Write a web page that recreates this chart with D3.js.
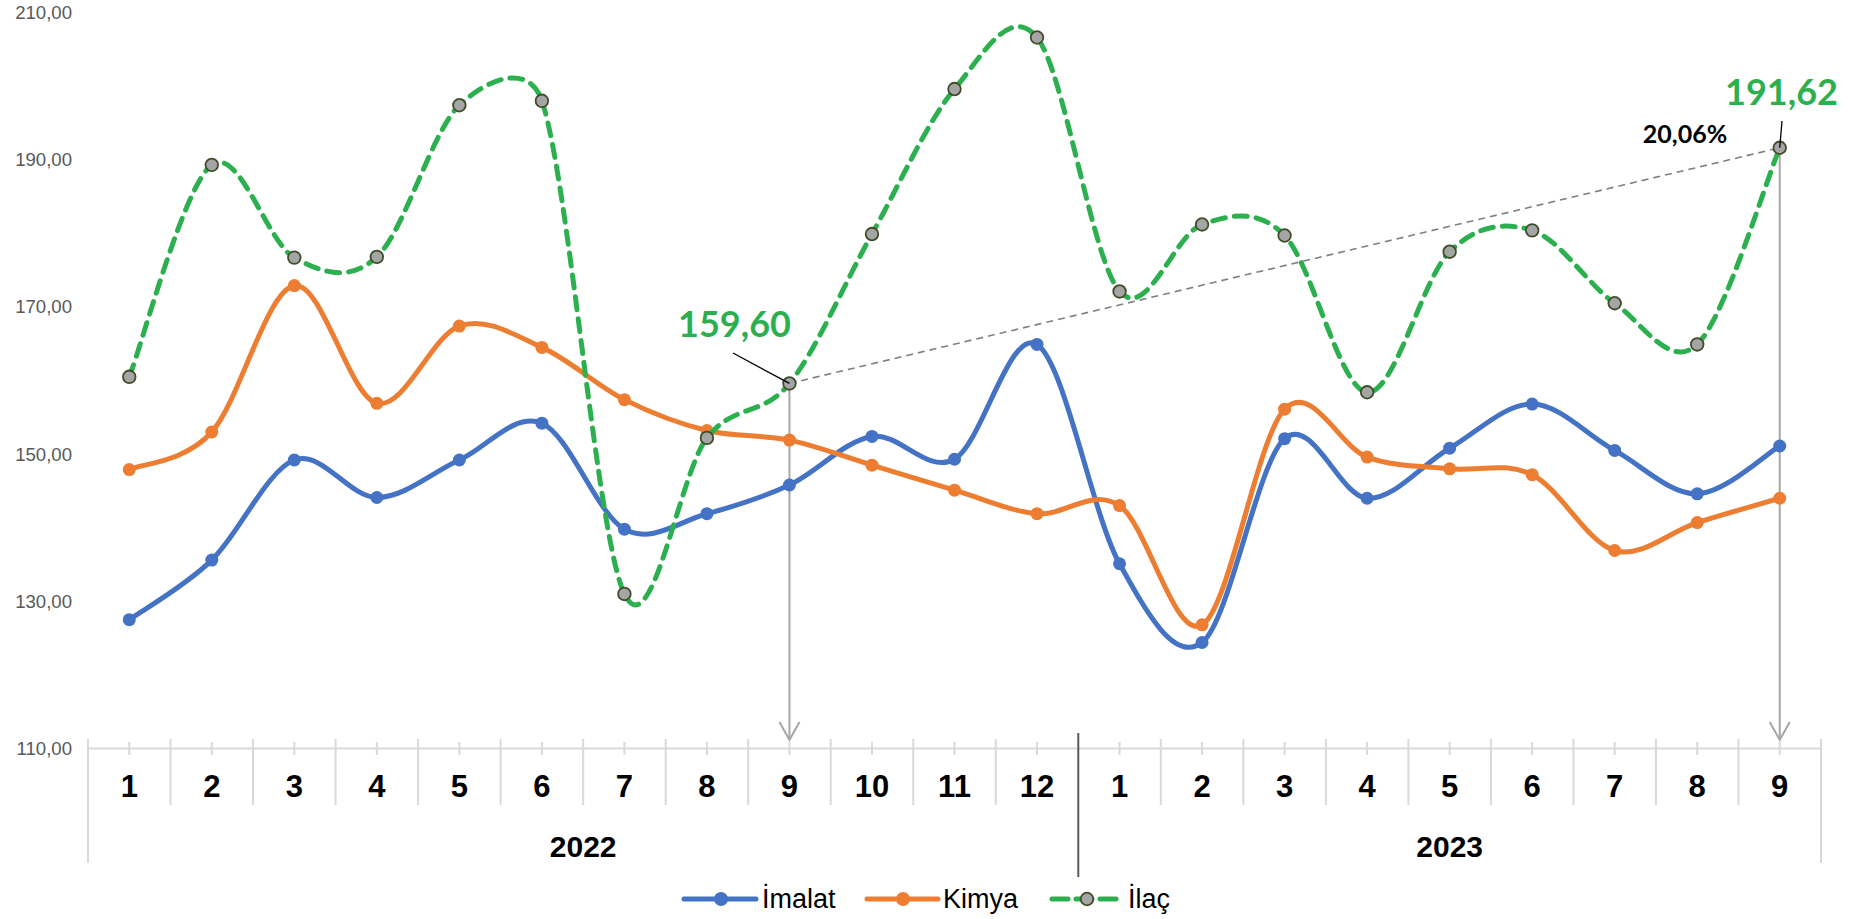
<!DOCTYPE html>
<html>
<head>
<meta charset="utf-8">
<script src="https://cdn.jsdelivr.net/npm/d3@7"></script>
<style>
  html, body { margin: 0; padding: 0; background: #fff; }
  svg { display: block; }
</style>
</head>
<body>
<svg id="chart" width="1861" height="919"></svg>
<script>
// ---- data ----
const months = ["1","2","3","4","5","6","7","8","9","10","11","12","1","2","3","4","5","6","7","8","9"];
const years = ["2022", "2023"];
const yearSpans = [[0, 12], [12, 21]];
const seriesNames = ["İmalat", "Kimya", "İlaç"];
const imalat = [127.5,135.6,149.2,144.1,149.2,154.2,139.8,141.9,145.8,152.4,149.3,164.9,135.1,124.4,152.1,144.0,150.8,156.8,150.5,144.6,151.1];
const kimya  = [147.9,153.0,172.9,156.9,167.4,164.5,157.4,153.2,151.9,148.5,145.1,141.9,143.0,126.8,156.1,149.6,148.0,147.2,136.9,140.7,144.0];
const ilac   = [160.5,189.3,176.7,176.8,197.4,198.0,131.0,152.2,159.60,179.9,199.6,206.6,172.1,181.2,179.7,158.4,177.5,180.4,170.5,164.9,191.62];
const yTicks = [110,130,150,170,190,210];
const startIdx = 8, endIdx = 20;

// ---- Excel-style smoothed curve (custom d3 curve) ----
function ExcelSmooth(context) { this._context = context; }
ExcelSmooth.prototype = {
  areaStart() {}, areaEnd() {},
  lineStart() { this._pts = []; },
  point(x, y) { this._pts.push([+x, +y]); },
  lineEnd() {
    const P = this._pts, c = this._context, n = P.length;
    if (!n) return;
    c.moveTo(P[0][0], P[0][1]);
    const dist = (a, b) => Math.hypot(a[0] - b[0], a[1] - b[1]);
    for (let i = 0; i < n - 1; i++) {
      const p0 = P[i - 1] || P[i], p1 = P[i], p2 = P[i + 1], p3 = P[i + 2] || P[i + 1];
      const d02 = dist(p0, p2), d12 = dist(p1, p2), d13 = dist(p1, p3);
      const f1 = (d02 / 6 < d12 / 2) ? 1 / 6 : d12 / (2 * d02);
      const f2 = (d13 / 6 < d12 / 2) ? 1 / 6 : d12 / (2 * d13);
      c.bezierCurveTo(
        p1[0] + (p2[0] - p0[0]) * f1, p1[1] + (p2[1] - p0[1]) * f1,
        p2[0] - (p3[0] - p1[0]) * f2, p2[1] - (p3[1] - p1[1]) * f2,
        p2[0], p2[1]);
    }
  }
};
const curveExcel = context => new ExcelSmooth(context);

// ---- setup ----
const svg = d3.select("#chart");
const left = 88, right = 1821, axisY = 748.5;
const x = d3.scaleBand().domain(d3.range(months.length)).range([left, right]).padding(0);
const bw = x.bandwidth();
const xc = i => x(i) + bw / 2;
const y = d3.scaleLinear().domain([110, 210]).range([axisY, 12.5]);
const fmt = v => d3.format(".2f")(v).replace(".", ",");

const colors = { imalat: "#4472C4", kimya: "#ED7D31", ilac: "#2CB04F" };
const grid = "#D9D9D9";

// ---- y axis labels ----
const yAxis = d3.axisLeft(y).tickValues(yTicks).tickFormat(fmt).tickSize(0).tickPadding(16);
const gy = svg.append("g").attr("transform", `translate(${left},0)`).call(yAxis);
gy.select(".domain").remove();
gy.selectAll("text").attr("font-family", "Liberation Sans, Arial, sans-serif").attr("font-size", 18.6).attr("fill", "#595959");

// ---- x axis ----
const gx = svg.append("g");
gx.append("line").attr("x1", left).attr("x2", right).attr("y1", axisY).attr("y2", axisY)
  .attr("stroke", grid).attr("stroke-width", 2);
gx.selectAll(".mt").data(months).join("line")
  .attr("x1", (d, i) => xc(i)).attr("x2", (d, i) => xc(i))
  .attr("y1", 742).attr("y2", 755).attr("stroke", grid).attr("stroke-width", 2);
const bounds = d3.range(months.length + 1);
gx.selectAll(".bd").data(bounds).join("line")
  .attr("x1", i => i === months.length ? right : x(i))
  .attr("x2", i => i === months.length ? right : x(i))
  .attr("y1", i => i === 12 ? 733 : 739)
  .attr("y2", i => (i === 0 || i === months.length) ? 863 : (i === 12 ? 877 : 805))
  .attr("stroke", i => i === 12 ? "#595959" : grid)
  .attr("stroke-width", 2);
gx.selectAll(".ml").data(months).join("text")
  .attr("x", (d, i) => xc(i)).attr("y", 797)
  .attr("text-anchor", "middle")
  .attr("font-family", "Liberation Sans, Arial, sans-serif").attr("font-weight", "bold")
  .attr("font-size", 31).attr("fill", "#000").text(d => d);
gx.selectAll(".yl").data(years).join("text")
  .attr("x", (d, i) => (x(yearSpans[i][0]) + (yearSpans[i][1] === months.length ? right : x(yearSpans[i][1]))) / 2)
  .attr("y", 857)
  .attr("text-anchor", "middle")
  .attr("font-family", "Liberation Sans, Arial, sans-serif").attr("font-weight", "bold")
  .attr("font-size", 30).attr("fill", "#000").text(d => d);

// ---- annotation lines (behind series) ----
const ann = svg.append("g");
ann.append("line")
  .attr("x1", xc(startIdx)).attr("y1", y(ilac[startIdx]))
  .attr("x2", xc(endIdx)).attr("y2", y(ilac[endIdx]))
  .attr("stroke", "#7F7F7F").attr("stroke-width", 1.6).attr("stroke-dasharray", "7,5");
[startIdx, endIdx].forEach(i => {
  const cx = xc(i);
  ann.append("line").attr("x1", cx).attr("x2", cx).attr("y1", y(ilac[i])).attr("y2", 739)
    .attr("stroke", "#A6A6A6").attr("stroke-width", 2);
  ann.append("path").attr("d", `M${cx - 10},${722} L${cx},${740} L${cx + 10},${722}`)
    .attr("fill", "none").attr("stroke", "#A6A6A6").attr("stroke-width", 2);
});

// ---- series ----
const line = d3.line().x((d, i) => xc(i)).y(d => y(d)).curve(curveExcel);
const gs = svg.append("g");
gs.append("path").datum(imalat).attr("d", line).attr("fill", "none")
  .attr("stroke", colors.imalat).attr("stroke-width", 5).attr("stroke-linecap", "round");
gs.selectAll(".pi").data(imalat).join("circle")
  .attr("cx", (d, i) => xc(i)).attr("cy", d => y(d)).attr("r", 6.5).attr("fill", colors.imalat);
gs.append("path").datum(kimya).attr("d", line).attr("fill", "none")
  .attr("stroke", colors.kimya).attr("stroke-width", 5).attr("stroke-linecap", "round");
gs.selectAll(".pk").data(kimya).join("circle")
  .attr("cx", (d, i) => xc(i)).attr("cy", d => y(d)).attr("r", 6.5).attr("fill", colors.kimya);
gs.append("path").datum(ilac).attr("d", line).attr("fill", "none")
  .attr("stroke", colors.ilac).attr("stroke-width", 5).attr("stroke-dasharray", "13,9").attr("stroke-linecap", "round");
gs.selectAll(".pl").data(ilac).join("circle")
  .attr("cx", (d, i) => xc(i)).attr("cy", d => y(d)).attr("r", 6.3)
  .attr("fill", "#A5A5A5").attr("stroke", "#3F4E2A").attr("stroke-width", 1.8);

// ---- annotation labels ----
const lab = svg.append("g");
lab.append("line").attr("x1", 733).attr("y1", 353).attr("x2", xc(startIdx)).attr("y2", y(ilac[startIdx]))
  .attr("stroke", "#000").attr("stroke-width", 1.3);
lab.append("text").attr("x", 734.5).attr("y", 337).attr("text-anchor", "middle")
  .attr("font-family", "Lato, 'Open Sans', sans-serif").attr("font-weight", "bold").attr("font-size", 36)
  .attr("fill", colors.ilac).text(fmt(ilac[startIdx]));
lab.append("line").attr("x1", 1782).attr("y1", 121).attr("x2", xc(endIdx)).attr("y2", y(ilac[endIdx]))
  .attr("stroke", "#000").attr("stroke-width", 1.3);
lab.append("text").attr("x", 1781.5).attr("y", 105).attr("text-anchor", "middle")
  .attr("font-family", "Lato, 'Open Sans', sans-serif").attr("font-weight", "bold").attr("font-size", 36)
  .attr("fill", colors.ilac).text(fmt(ilac[endIdx]));
const pct = ((ilac[endIdx] / ilac[startIdx]) - 1) * 100;
lab.append("text").attr("x", 1685).attr("y", 143).attr("text-anchor", "middle")
  .attr("font-family", "Lato, 'Open Sans', sans-serif").attr("font-weight", "bold").attr("font-size", 25)
  .attr("fill", "#000").text(fmt(pct) + "%");

// ---- legend ----
const lg = svg.append("g");
const ly = 899;
const legendItems = [
  { name: seriesNames[0], x1: 684, x2: 756, mx: 721, tx: 762, color: colors.imalat, dash: null },
  { name: seriesNames[1], x1: 867, x2: 938, mx: 903, tx: 943, color: colors.kimya, dash: null },
  { name: seriesNames[2], x1: 1052, x2: 1116, mx: 1087, tx: 1128, color: colors.ilac, dash: "16,8" }
];
legendItems.forEach((it, k) => {
  const l = lg.append("line").attr("x1", it.x1).attr("x2", it.x2).attr("y1", ly).attr("y2", ly)
    .attr("stroke", it.color).attr("stroke-width", 5).attr("stroke-linecap", "round");
  if (it.dash) l.attr("stroke-dasharray", it.dash);
  const c = lg.append("circle").attr("cx", it.mx).attr("cy", ly);
  if (k < 2) c.attr("r", 7).attr("fill", it.color);
  else c.attr("r", 6.3).attr("fill", "#A5A5A5").attr("stroke", "#3F4E2A").attr("stroke-width", 1.8);
  lg.append("text").attr("x", it.tx).attr("y", 908)
    .attr("font-family", "Liberation Sans, Arial, sans-serif").attr("font-size", 27)
    .attr("fill", "#000").text(it.name);
});
</script>
</body>
</html>
